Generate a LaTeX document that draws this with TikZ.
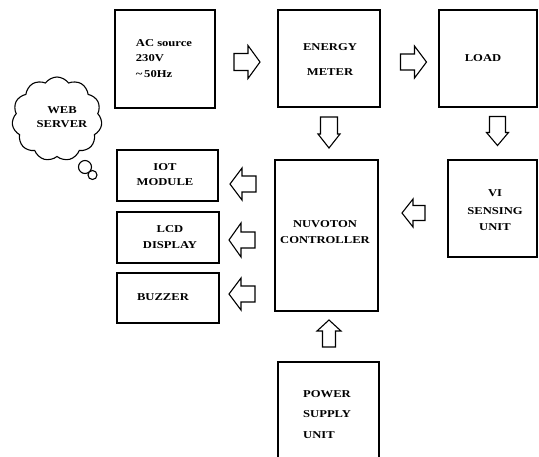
\documentclass[tikz,border=0pt]{standalone}
\usepackage{fontspec}
\setmainfont{Liberation Serif}[FakeStretch=1.2]
\usetikzlibrary{shapes.symbols}
\tikzset{
  blk/.style={draw=black, line width=1.4pt, inner sep=0pt},
  txt/.style={font=\fontsize{10.5}{12.5}\selectfont\bfseries, inner sep=0pt, align=center},
  barrowstyle/.style={draw=black, line width=1.1pt, fill=white, line join=miter},
}
% x y angle L W w h
\newcommand{\barrow}[7]{%
  \draw[barrowstyle, shift={(#1,#2)}, rotate=#3]
    ({-#4/2},{-#6}) -- ({#4/2-#7},{-#6}) -- ({#4/2-#7},{-#5}) -- ({#4/2},0)
    -- ({#4/2-#7},{#5}) -- ({#4/2-#7},{#6}) -- ({-#4/2},{#6}) -- cycle;}
\begin{document}
\begin{tikzpicture}[x=1pt,y=-1pt]
\useasboundingbox[fill=white] (0,0) rectangle (539,456);
% boxes
\node[blk, minimum width=100pt, minimum height=98pt] (ac) at (165,59) {};
\node[blk, minimum width=102pt, minimum height=97pt] (em) at (329,58.5) {};
\node[blk, minimum width=98pt, minimum height=97pt] (load) at (488,58.5) {};
\node[blk, minimum width=89pt, minimum height=97pt] (vi) at (492.5,208.5) {};
\node[blk, minimum width=103pt, minimum height=151pt] (nuv) at (326.5,235.5) {};
\node[blk, minimum width=101pt, minimum height=110pt] (psu) at (328.5,417) {};
\node[blk, minimum width=101pt, minimum height=51pt] (iot) at (167.5,175.5) {};
\node[blk, minimum width=102pt, minimum height=51pt] (lcd) at (168,237.5) {};
\node[blk, minimum width=102pt, minimum height=50pt] (buz) at (168,298) {};
% cloud
\node[cloud, draw=black, line width=1.1pt, cloud puffs=11, cloud puff arc=110, aspect=1.1,
      minimum width=90pt, minimum height=84pt, inner sep=0pt] (web) at (57,119) {};
\node[circle, draw=black, line width=1.1pt, fill=white, minimum size=13pt, inner sep=0pt] (b1) at (85,167) {};
\node[circle, draw=black, line width=1.1pt, fill=white, minimum size=9pt, inner sep=0pt] (b2) at (92.5,175) {};
% texts
\node[txt, align=left] (tac) at (164,59) {AC source\\[2pt]230V\\[4pt]\textasciitilde\,50Hz};
\node[txt] (tem) at (330,59.5) {ENERGY\\[12pt]METER};
\node[txt] (tload) at (483,58) {LOAD};
\node[txt] (tvi) at (495,210) {VI\\[6pt]SENSING\\[3pt]UNIT};
\node[txt] (tnuv) at (325,232) {NUVOTON\\[3pt]CONTROLLER};
\node[txt, align=left, anchor=west] (tpsu) at (303,415) {POWER\\[7pt]SUPPLY\\[9pt]UNIT};
\node[txt] (tiot) at (165,174.5) {IOT\\[2pt]MODULE};
\node[txt] (tlcd) at (170,237) {LCD\\[3pt]DISPLAY};
\node[txt] (tbuz) at (163,297) {BUZZER};
\node[txt] (tweb) at (62,117) {WEB\\[1pt]SERVER};
% block arrows
\barrow{247}{62}{0}{26}{16.5}{8.5}{12}
\barrow{413.5}{62}{0}{26}{16}{8}{12}
\barrow{329}{132.5}{-90}{31}{11}{8.5}{14}
\barrow{497.5}{131}{-90}{29}{11}{8}{13}
\barrow{413.5}{213}{180}{23}{14}{7.5}{11}
\barrow{243}{184}{180}{26}{16}{8}{12}
\barrow{242}{240}{180}{26}{17}{8}{12}
\barrow{242}{294}{180}{26}{16}{8}{12}
\barrow{329}{333.5}{90}{27}{12}{6.5}{11}
\end{tikzpicture}
\end{document}
